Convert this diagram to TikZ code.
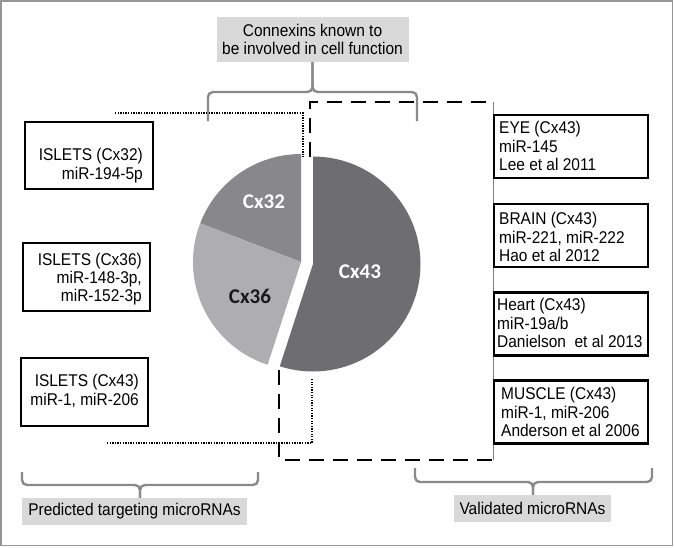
\documentclass[tikz,border=0pt]{standalone}
\usepackage{fontspec}
\setmainfont[FakeStretch=0.91]{Liberation Sans}
\newfontfamily\piefont{Carlito}
\definecolor{cxa}{RGB}{110,110,112}
\definecolor{cxb}{RGB}{136,136,139}
\definecolor{cxc}{RGB}{174,174,177}
\definecolor{lblgray}{RGB}{217,217,217}
\definecolor{bracegray}{RGB}{138,138,138}
\definecolor{framegray}{RGB}{150,150,150}
\begin{document}
\begin{tikzpicture}[x=1pt,y=-1pt,
  txt/.style={font=\fontsize{17}{18.2}\selectfont, inner sep=0pt},
  lbox/.style={draw=black, fill=white, line width=2.4pt, inner sep=0pt},
  rbox/.style={draw=black, fill=white, line width=2.6pt, inner sep=0pt, minimum height=63pt, minimum width=154pt},
  ltxt/.style={txt, align=right, anchor=east},
  rtxt/.style={txt, align=left, anchor=west},
  lbl/.style={txt, fill=lblgray, inner sep=0pt, align=center},
  brace/.style={draw=bracegray, line width=2.4pt, rounded corners=5pt},
  dashbox/.style={line width=2pt, dash pattern=on 15pt off 9pt},
  dotline/.style={line width=1.6pt, dash pattern=on 1.3pt off 1.3pt},
  pielbl/.style={font=\piefont\bfseries\fontsize{21}{21}\selectfont, inner sep=0pt}
]
\useasboundingbox (0,0) rectangle (674,547);
\draw[framegray, line width=1.5pt] (1,1) rectangle (672.5,545.5);

% labels
\node[lbl, minimum width=192pt, minimum height=45pt] (top) at (312.5,39.5) {Connexins known to\\be involved in cell function};
\node[lbl, minimum width=225pt, minimum height=27pt] (pred) at (134.5,511.5) {Predicted targeting microRNAs};
\node[lbl, minimum width=157pt, minimum height=27pt] (valid) at (532.5,508.5) {Validated microRNAs};

% braces
\coordinate (tipT) at (312.5,92);
\coordinate (tipL) at (140,485);
\coordinate (tipR) at (533,482);
\draw[brace] (208,121) |- (tipT) -- (top.south);
\draw[brace] (417,121) |- (tipT) -- (top.south);
\draw[brace] (22,472) |- (tipL) -- (tipL |- pred.north);
\draw[brace] (258,472) |- (tipL) -- (tipL |- pred.north);
\draw[brace] (415,468) |- (tipR) -- (tipR |- valid.north);
\draw[brace] (652,468) |- (tipR) -- (tipR |- valid.north);

% pie
\fill[cxa] (313,264) -- ++(-90:107.5) arc[start angle=-90, end angle=108, radius=107.5] -- cycle;
\fill[cxb] (301,262) -- ++(-90:108) arc[start angle=-90, end angle=-159, radius=108] -- cycle;
\fill[cxc] (301,262) -- ++(-159:108) arc[start angle=-159, end angle=-252, radius=108] -- cycle;
\node[pielbl, text=white] (l32) at (264,202) {Cx32};
\node[pielbl, text=black!90] (l36) at (250,296) {Cx36};
\node[pielbl, text=white] (l43) at (360,272) {Cx43};

% dashed and dotted outlines
\coordinate (dA) at (310,157);
\coordinate (dB) at (310,102);
\coordinate (dC) at (493,102);
\coordinate (dD) at (493,460);
\coordinate (dE) at (279,460);
\coordinate (dF) at (279,370);
\draw[dashbox] (dA) -- (dB) -- (dC);
\draw[dashbox] (dF) -- (dE) -- (dD);
\draw[gray, line width=0.8pt] (dC) -- (dD);

\coordinate (pA) at (115,113);
\coordinate (pB) at (303,113);
\coordinate (pC) at (303,157);
\coordinate (qA) at (107,443);
\coordinate (qB) at (312,443);
\coordinate (qC) at (312,379);
\draw[dotline] (pA) -- (pB) -- (pC);
\draw[dotline] (qA) -- (qB) -- (qC);

% left boxes
\node[lbox, minimum width=128pt, minimum height=67pt] (b32) at (89,155.5) {};
\node[ltxt] (t32) at (143,165.5) {ISLETS (Cx32)\\miR-194-5p};
\node[lbox, minimum width=127pt, minimum height=68pt] (b36) at (86.5,277) {};
\node[ltxt] (t36) at (142,279) {ISLETS (Cx36)\\miR-148-3p,\\miR-152-3p};
\node[lbox, minimum width=127pt, minimum height=68pt] (b43) at (84.5,392) {};
\node[ltxt] (t43) at (139,391) {ISLETS (Cx43)\\miR-1, miR-206};

% right boxes
\node[rbox] (eye) at (571,146.5) {};
\node[rtxt] (teye) at (499,146) {EYE (Cx43)\\miR-145\\Lee et al 2011};
\node[rbox] (brain) at (571,235.5) {};
\node[rtxt] (tbrain) at (499,237) {BRAIN (Cx43)\\miR-221, miR-222\\Hao et al 2012};
\node[rbox] (heart) at (571,324) {};
\node[rtxt] (theart) at (497,323) {Heart (Cx43)\\miR-19a/b\\Danielson\ \ et al 2013};
\node[rbox] (muscle) at (571,412) {};
\node[rtxt] (tmuscle) at (501,412) {MUSCLE (Cx43)\\miR-1, miR-206\\Anderson et al 2006};
\end{tikzpicture}
\end{document}
